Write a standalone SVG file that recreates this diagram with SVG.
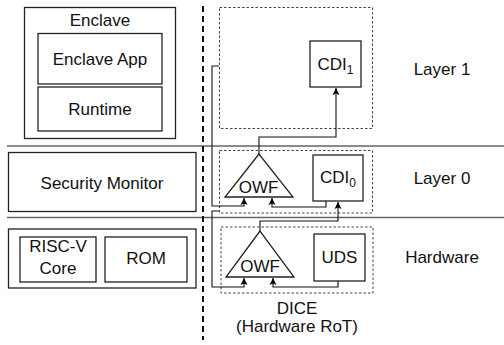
<svg xmlns="http://www.w3.org/2000/svg" width="504" height="345" viewBox="0 0 504 345">
<defs>
<marker id="ah" markerWidth="8" markerHeight="8" refX="7" refY="4" orient="auto" markerUnits="userSpaceOnUse">
<path d="M0,0.5 L7,4 L0,7.5 L1.5,4 Z" fill="#000"/>
</marker>
<style>
text{font-family:"Liberation Sans",Arial,sans-serif;font-size:17px;fill:#111;text-anchor:middle}
.box{fill:#fff;stroke:#222;stroke-width:1.3}
.dot{fill:none;stroke:#444;stroke-width:1;stroke-dasharray:2.5,2}
.sep{stroke:#666;stroke-width:1.5}
.con{fill:none;stroke:#111;stroke-width:1.1}
.arr{fill:none;stroke:#111;stroke-width:1.1;marker-end:url(#ah)}
.tri{fill:#fff;stroke:#222;stroke-width:1.3}
</style>
</defs>
<rect width="504" height="345" fill="#fff"/>
<g id="separators">
<line class="sep" x1="7" y1="146" x2="504" y2="146"/>
<line class="sep" x1="7" y1="217.5" x2="504" y2="217.5"/>
<line x1="203" y1="6" x2="203" y2="340" stroke="#111" stroke-width="2" stroke-dasharray="6,4"/>
</g>
<g id="enclave">
<rect class="box" x="24.5" y="7.5" width="151" height="131"/>
<text x="100" y="26">Enclave</text>
</g>
<g id="enclave-app">
<rect class="box" x="38" y="33.5" width="124" height="50.5"/>
<text x="100" y="65">Enclave App</text>
</g>
<g id="runtime">
<rect class="box" x="38" y="87" width="124" height="44"/>
<text x="100" y="115">Runtime</text>
</g>
<g id="security-monitor">
<rect class="box" x="8.5" y="152.5" width="187.5" height="59"/>
<text x="102" y="188.5">Security Monitor</text>
</g>
<g id="hardware-box">
<rect class="box" x="8.5" y="229" width="187.5" height="59"/>
</g>
<g id="risc-v-core">
<rect class="box" x="20" y="237" width="76" height="45"/>
<text x="58" y="252">RISC-V</text>
<text x="58" y="274">Core</text>
</g>
<g id="rom">
<rect class="box" x="105" y="237" width="82" height="45"/>
<text x="146" y="264">ROM</text>
</g>
<g id="layer1-box">
<rect class="dot" x="219.5" y="7.5" width="153" height="121"/>
</g>
<g id="cdi1">
<rect class="box" x="310" y="41" width="51" height="46"/>
<text x="335.5" y="70">CDI<tspan font-size="12" dy="4">1</tspan></text>
</g>
<g id="layer0-box">
<rect class="dot" x="219.5" y="150.5" width="153" height="62.5"/>
</g>
<g id="owf0">
<polygon class="tri" points="259,154 225,197 293,197"/>
<text x="258.5" y="193">OWF</text>
</g>
<g id="cdi0">
<rect class="box" x="313" y="155" width="50" height="46"/>
<text x="338" y="183">CDI<tspan font-size="12" dy="4">0</tspan></text>
</g>
<g id="hw-box">
<rect class="dot" x="221" y="227" width="152" height="66"/>
</g>
<g id="owf-hw">
<polygon class="tri" points="260,231 226,277 294,277"/>
<text x="260" y="272">OWF</text>
</g>
<g id="uds">
<rect class="box" x="314" y="234" width="51" height="47"/>
<text x="339.5" y="263">UDS</text>
</g>
<g id="labels">
<text x="442" y="75">Layer 1</text>
<text x="442" y="184">Layer 0</text>
<text x="442" y="263">Hardware</text>
<text x="297" y="314">DICE</text>
<text x="297" y="332">(Hardware RoT)</text>
</g>
<g id="connectors">
<path class="arr" d="M259,154 V137 H336 V88"/>
<path class="arr" d="M219,66 H212 V206 H244 V198"/>
<path class="arr" d="M326,201 V207 H272 V198"/>
<path class="arr" d="M260,231 V221 H338 V202"/>
<path class="arr" d="M219,211 H212 V287 H244 V278"/>
<path class="arr" d="M338,281 V287 H273 V278"/>
</g>
</svg>
